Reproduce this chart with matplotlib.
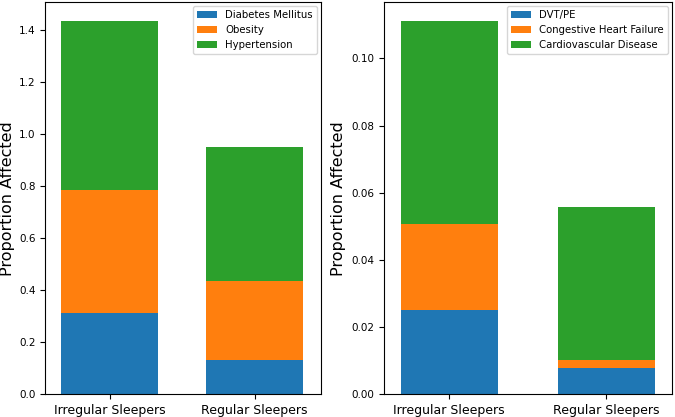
import matplotlib
matplotlib.use('Agg')
import numpy as np
import matplotlib.pyplot as plt

groups = ['Irregular Sleepers', 'Regular Sleepers']

#left panel: metabolic conditions
diabetes = [0.313, 0.130]
obesity = [0.473, 0.305]
hypertension = [0.650, 0.514]

#right panel: cardiovascular conditions
dvt_pe = [0.0252, 0.0077]
chf = [0.0255, 0.0024]
cvd = [0.0605, 0.0455]

left_names = ['Diabetes Mellitus', 'Obesity', 'Hypertension']
right_names = ['DVT/PE', 'Congestive Heart Failure', 'Cardiovascular Disease']

colors = ['#1f77b4', '#ff7f0e', '#2ca02c']


def stacked(ax, series, names, width, labelx):
    x = np.arange(len(groups))
    bottom = np.zeros(len(groups))
    for vals, name, c in zip(series, names, colors):
        ax.bar(x, vals, width, bottom=bottom, color=c, label=name)
        bottom = bottom + np.array(vals)
    ax.set_xticks(x)
    ax.set_xticklabels(groups, fontsize=9)
    ax.tick_params(axis='y', labelsize=7.5)
    ax.set_ylabel('Proportion Affected', fontsize=11.5)
    ax.yaxis.set_label_coords(labelx, 0.5)
    ax.set_ylim(0, bottom.max() * 1.05)
    ax.legend(loc='upper right', fontsize=7.3, borderaxespad=0.4)


fig = plt.figure(figsize=(6.75, 4.17), dpi=100)
ax1 = fig.add_axes([0.0674, 0.0544, 0.4077, 0.9408])
ax2 = fig.add_axes([0.5693, 0.0544, 0.4258, 0.9408])

stacked(ax1, [diabetes, obesity, hypertension], left_names, 0.67, -0.111)
ax1.set_xlim(-0.443, 1.455)

stacked(ax2, [dvt_pe, chf, cvd], right_names, 0.62, -0.1315)
ax2.set_xlim(-0.414, 1.417)

plt.savefig('out.png', dpi=100)
